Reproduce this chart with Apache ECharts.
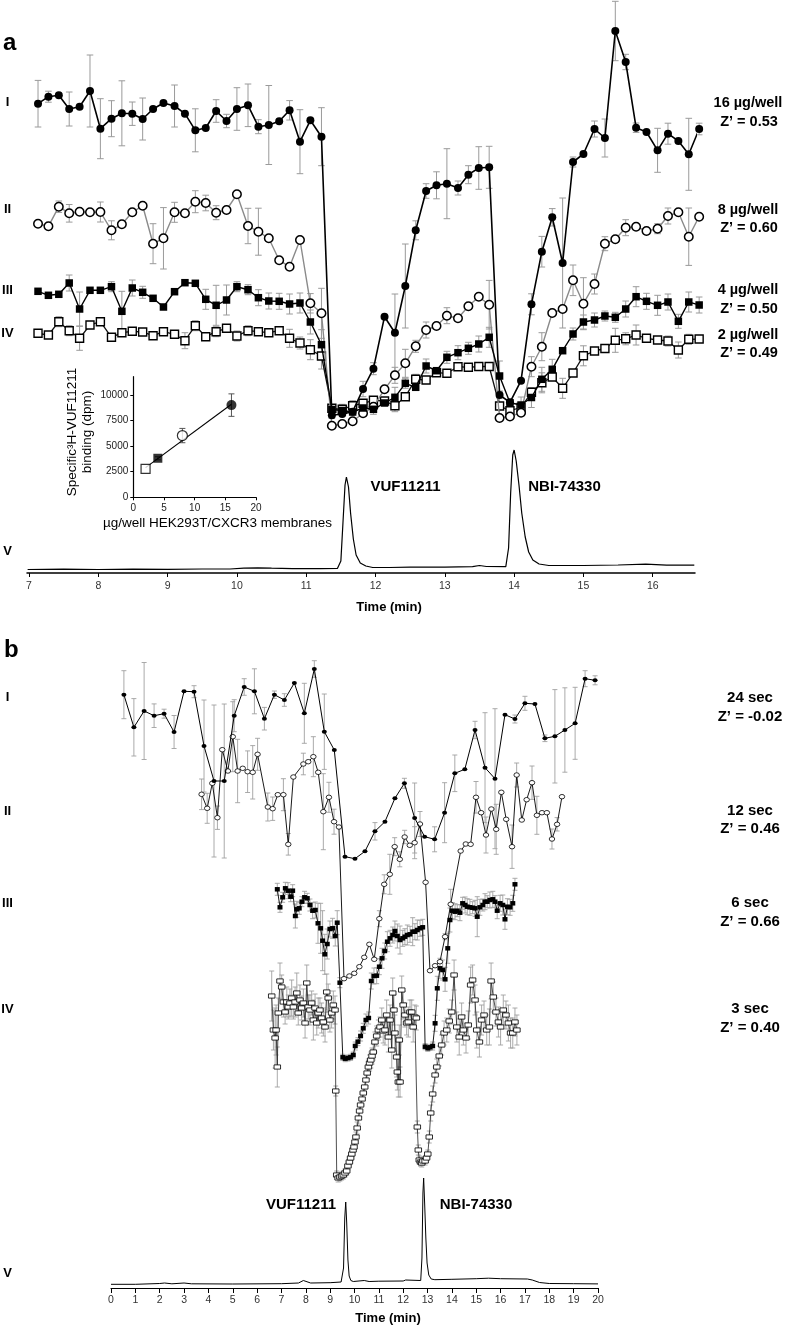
<!DOCTYPE html>
<html><head><meta charset="utf-8">
<script src="https://cdn.jsdelivr.net/npm/echarts@6/dist/echarts.min.js"></script>
<style>html,body{margin:0;padding:0;background:#fff}#c{width:788px;height:1328px}</style>
</head><body><div id="c"></div>
<script>
// ---------- tick labels ----------
const tickA = [7, 8, 9, 10, 11, 12, 13, 14, 15, 16];
const tickB = [0, 1, 2, 3, 4, 5, 6, 7, 8, 9, 10, 11, 12, 13, 14, 15, 16, 17, 18, 19, 20];
const insetTickX = [0, 5, 10, 15, 20];
const insetTickY = [0, 2500, 5000, 7500, 10000];

// ---------- panel a : fractions (time, min) and binding signal (arbitrary, offset traces) ----------
const timeA = [7.13,7.28,7.43,7.58,7.73,7.88,8.03,8.19,8.34,8.49,8.64,8.79,8.94,9.10,9.25,9.40,9.55,9.70,9.85,10.00,10.16,10.31,10.46,10.61,10.76,10.91,11.06,11.22,11.37,11.52,11.67,11.82,11.97,12.13,12.28,12.43,12.58,12.73,12.88,13.03,13.19,13.34,13.49,13.64,13.79,13.94,14.10,14.25,14.40,14.55,14.70,14.85,15.00,15.16,15.31,15.46,15.61,15.76,15.91,16.07,16.22,16.37,16.52,16.67];
const a16 = [469.3,476.3,477.7,464,466.3,482,444.3,454.3,459.7,459.3,454,464,470,467,459.3,442.7,445,462,452,464,467.7,446.3,448,451.7,462.7,431.3,452.7,436.3,157.7,159,161.3,184,204.3,256.3,240.3,287,342.7,382,387.7,389.3,385,398.3,405,405.7,178,170.7,192.3,268.7,321.3,355.7,310,411,419,444,435,542,511,445.3,441,422.7,439.3,432,418.7,444];
const a16Err = [23.3,5.5,0,17,0,36,30,18,32.5,11.7,21,0,0,21,0,21.5,0,11.3,6.7,21.3,21.3,7,39.5,0,9.7,32,0,29,3,0,0,7.7,6,0,38.7,42,9.5,7.3,13.5,35,7,9,21.3,21,3,0,0,10.5,15.3,8.7,65,5,0,8,19,29.7,7.7,4.7,0,22,10.5,0,36,5.8];
const a8 = [349.3,346.7,366.3,359.7,361.3,360.7,361,342.7,348.7,360.7,367.3,329.3,334.7,360.7,359.7,371.3,370,360.3,363,378.7,347,341.3,334.7,312.7,306.3,333,269.7,259.7,147.3,149,151.7,159.7,166.3,183.7,197.7,209.7,226.7,243,247,257.3,254.7,266.7,276.3,268.3,155,156.5,160.3,206.3,226.3,260,264,292.7,269.3,289,329.3,333.7,345.3,346.3,342,344.3,357,360.7,336.3,356.3];
const a8Err = [0,0,5.7,8.8,0,0,10,9.5,0,0,0,20,30.7,10,0,11,7.8,7,0,0,17.7,23.5,0,0,0,0,9.7,25,0,0,0,0,0,0,8,14,6,8,0,8,0,0,0,24.3,0,0,0,10,14,0,0,15.3,26,10,7,0,8,0,0,5,8,0,28.7,0];
const a4 = [281.7,277.7,278.7,290,264,282.7,282.7,286.3,261.7,285,280.7,274.7,266,281.3,290.3,289.7,273.7,267.7,273,286.3,283.3,275.3,272,271.7,269,270,251,228.3,163.5,162.5,161,165,163.7,170,175.7,189.7,185.7,207,202.3,215.7,220.3,224.7,229,235.7,197,170.3,168,175.5,193.7,203.7,222.3,239,251,253,257,255.7,264,276.3,271.7,267.7,271,251.7,271,268];
const a4Err = [0,0,0,8,17,0,0,5,20,8,6,0,0,0,0,0,10,20,15,5,5,8,8,8,10,10,12,15,0,0,0,8,5,0,10,5,0,7,0,6,7,6,8,10,15,0,8,10,12,10,0,6,7,7,5,5,8,10,8,10,8,7,10,8];
const a2 = [239.7,238,251.3,242.3,234.7,248,251.3,235.7,240.3,241.7,241,237.3,241.3,238.7,232.3,247.3,236.3,241.3,244.7,237,242.3,241.3,240.3,242.3,234.7,230,223.3,217,164.7,163.7,167.3,169.7,172.7,172,167.3,176.3,193.7,193,200.3,199.7,206.3,205.7,206.5,206.5,167,162.3,165.5,180.7,190.2,196,184.7,200,217.2,222,224.5,232.7,234.2,238,234.7,233,232,223,233.7,234];
const a2Err = [0,0,5,5,12,0,0,0,0,0,0,0,0,0,8,5,0,5,0,5,5,0,0,0,9,6,10,13,0,5,5,0,0,0,6,0,5,0,0,0,0,0,0,0,10,0,5,0,10,0,10,0,10,0,0,12,6,10,0,0,5,8,5,0];
const chromATime = [6.98,7.5,8.0,8.5,9.0,9.5,9.9,10.1,10.3,10.5,10.8,11.2,11.45,11.5,11.53,11.56,11.58,11.61,11.64,11.68,11.72,11.78,11.86,11.96,12.2,12.5,13.0,13.4,13.5,13.6,13.88,13.92,13.95,13.98,14.0,14.03,14.07,14.11,14.16,14.21,14.27,14.36,14.5,15.0,15.5,15.9,16.2,16.6];
const chromASignal = [3.5,3.8,3.5,3.8,3.7,4,4,4.8,5.2,4.8,4.3,4.3,4.5,12,50,88,96,86,60,34,18,10,7,5.5,5.5,5.8,5.8,6.3,7.5,6.5,6.3,25,80,118,123,112,88,60,36,21,13,9,7.5,7.5,8,8.8,7.8,7.8];

// ---------- inset ----------
const insetDose = [2, 4, 8, 16];
const insetBinding = [2780, 3820, 6040, 9020];
const insetErr = [0, 150, 700, 1100];
const insetFitDose = [2, 16];
const insetFitBinding = [2900, 9100];

// ---------- panel b ----------
const b24Time = [0.53,0.94,1.36,1.77,2.18,2.59,3.00,3.41,3.82,4.23,4.65,5.06,5.47,5.89,6.30,6.71,7.12,7.53,7.94,8.35,8.76,9.17,9.61,10.02,10.43,10.84,11.25,11.66,12.05,12.47,12.88,13.29,13.70,14.12,14.53,14.95,15.36,15.77,16.18,16.59,17.00,17.41,17.82,18.23,18.64,19.06,19.47,19.88];
const b24 = [593.3,560.7,577,572.3,574.3,556,596.7,596.3,542,507,507,572.3,601,596.7,569.3,593.3,588,605,574.7,619,556.3,538,431.3,429.3,436.7,456.7,466.3,489.7,504.7,470,451.3,448.7,475.3,514.7,518.7,558,520.3,509.3,573.3,569,584.7,584,549.7,551.7,558,564.7,609.3,607.7];
const b24Err = [24,28.7,48.5,11.8,4.5,16.5,0,6,46,76,77,16,8.3,22.5,11.3,3.7,6.3,0,30,8.3,37.7,0,0,0,0,8.7,0,0,5,35,0,12.5,30,18.3,0,8.7,55,70,0,4,7,0,3.3,46.7,42.2,36,8,4.5];
const b12Time = [3.72,3.95,4.16,4.37,4.57,4.80,5.00,5.20,5.41,5.61,5.82,6.02,6.44,6.64,6.85,7.08,7.28,7.49,7.90,8.10,8.31,8.51,8.72,8.95,9.16,9.36,9.57,9.79,9.99,10.20,10.40,10.61,10.81,11.02,11.22,11.45,11.65,11.86,12.06,12.27,12.47,12.69,12.92,13.10,13.31,13.51,13.72,13.95,14.36,14.57,14.77,14.99,15.20,15.40,15.62,15.82,16.03,16.23,16.47,16.66,16.87,17.07,17.29,17.49,17.70,17.90,18.11,18.32,18.52];
const b12 = [493.7,479.7,504.7,470.3,538.3,517,551.3,517,519.7,516.3,515.7,533.7,481,479.3,493.3,493.3,443.7,511,524,526.3,531.3,515.7,476.3,490.7,466.3,461,309.3,312,314.7,321.3,330.7,343.7,328.7,369.3,403.7,413.7,441.3,428.7,451,442.7,445.3,464,405.7,317.3,322.3,326.3,351.3,383.7,437,444,443.7,490.7,475.3,453,479,458.7,495.7,468.7,441.3,513,468,488.3,505.3,472.7,475.3,475.3,449,463.7,491.3];
const b12Err = [15.3,15,0,11.7,0,0,35,31.7,0,20.8,26.7,16,14,11.7,0,16,10.8,0,10.8,0,20,0,38,15,12.5,0,0,0,0,0,0,0,0,8,9.5,20,9,7.5,6.7,0,16,12.5,0,0,0,0,3,15,0,0,0,15.8,0,18,0,25,0,0,21.7,12,0,0,16.7,19,0,0,10,6.7,0];
const b6Time = [6.83,6.94,7.05,7.16,7.27,7.38,7.46,7.57,7.63,7.73,7.84,7.95,8.06,8.17,8.28,8.39,8.50,8.61,8.69,8.78,8.88,8.99,9.10,9.21,9.29,9.40,9.52,9.62,9.73,9.84,9.95,10.03,10.14,10.25,10.36,10.47,10.58,10.69,10.80,10.91,11.02,11.13,11.24,11.35,11.46,11.57,11.66,11.76,11.87,11.98,12.07,12.17,12.28,12.39,12.48,12.58,12.69,12.80,12.90,13.01,13.10,13.21,13.31,13.40,13.51,13.62,13.72,13.83,13.92,14.02,14.13,14.22,14.33,14.44,14.54,14.63,14.74,14.85,14.95,15.04,15.15,15.27,15.36,15.45,15.56,15.68,15.77,15.86,15.98,16.09,16.18,16.28,16.39,16.50,16.59];
const b6 = [398.7,380.7,390.7,399.7,397.3,391.3,397.3,372,378.7,379.7,386.3,390.7,389.7,383,377.3,378,364.7,359.7,347.3,333.7,344,359,359.7,352,365.3,305.3,230.7,229.3,230,230.7,233,242,246.3,252,259.7,268,270,307,312,312.3,321.3,329.7,337,346.3,349.7,353,357,352,348,349.7,351.3,353,353.7,356.3,356.3,358,359.7,360.7,241.3,239.7,240.7,242,264.7,299.7,319.7,318,308.7,339.7,368,377.3,376.3,377.3,375.3,384.7,383,381.3,380.7,380.3,379.7,371.3,380.7,383,386.3,386.3,388,388.7,386.3,377.3,384.7,383,368.7,381.3,380.7,384.7,403.7];
const b6Err = [6,5,5,6,8,5,6,12,8,6,5,6,5,6,8,8,20,25,30,20,15,8,10,10,12,5,3,3,3,3,3,4,4,5,5,6,6,8,8,8,8,10,8,10,8,8,10,12,14,8,8,10,8,14,8,10,8,8,3,3,3,4,8,12,10,10,12,15,12,8,8,6,8,6,8,8,8,6,8,20,8,6,8,6,8,8,6,8,8,10,10,8,8,8,6];
const b3Time = [6.60,6.67,6.74,6.78,6.83,6.87,6.94,7.01,7.08,7.15,7.22,7.28,7.35,7.42,7.49,7.56,7.63,7.69,7.76,7.83,7.90,7.97,8.04,8.10,8.17,8.24,8.31,8.38,8.45,8.51,8.58,8.65,8.72,8.79,8.86,8.92,8.99,9.06,9.13,9.20,9.23,9.27,9.33,9.40,9.47,9.54,9.61,9.68,9.73,9.79,9.84,9.89,9.94,9.98,10.02,10.06,10.11,10.16,10.21,10.25,10.31,10.36,10.42,10.47,10.52,10.57,10.62,10.67,10.72,10.77,10.84,10.91,10.98,11.05,11.12,11.18,11.25,11.32,11.39,11.46,11.53,11.57,11.62,11.66,11.73,11.76,11.80,11.84,11.87,11.94,12.00,12.07,12.14,12.21,12.28,12.35,12.41,12.48,12.54,12.58,12.62,12.66,12.71,12.76,12.81,12.90,12.96,13.01,13.07,13.13,13.21,13.31,13.38,13.48,13.58,13.68,13.79,13.89,13.99,14.09,14.20,14.30,14.40,14.47,14.58,14.67,14.77,14.85,14.95,15.02,15.13,15.22,15.32,15.43,15.54,15.61,15.70,15.81,15.91,16.00,16.11,16.22,16.32,16.41,16.50,16.59,16.67];
const b3 = [292,258,250,258,221,275,307,301,286,276,286,281,285,290,281,286,295,275,288,280,285,265,305,281,278,285,268,280,265,275,278,270,266,261,296,290,268,275,283,278,197,113,110,111,112,113,115,117,122,126,130,134,138,141,146,151,160,170,177,183,189,195,201,208,215,221,225,228,232,236,246,252,258,261,268,257,258,273,251,268,238,295,278,255,231,216,206,248,206,298,283,273,265,266,276,276,261,271,270,161,138,128,126,125,127,127,130,134,151,175,194,213,221,232,243,255,258,267,276,313,261,251,271,258,250,263,303,308,288,258,246,268,273,258,261,307,291,276,266,261,278,273,265,255,255,266,258];
const b3Err = [25,20,30,25,20,15,18,12,15,12,15,12,14,18,12,15,20,12,15,12,14,15,18,12,15,12,20,14,12,15,12,15,14,15,18,14,12,15,14,14,5,4,4,4,4,4,4,4,4,4,4,4,4,4,5,5,6,6,6,6,6,6,6,6,6,8,8,8,8,8,10,10,10,10,12,12,15,15,15,15,18,15,15,18,20,18,15,15,15,14,14,12,12,15,12,12,15,12,12,6,5,4,4,4,4,4,4,4,6,8,8,8,8,10,10,12,12,12,12,15,15,18,14,15,15,14,18,15,15,18,15,15,14,15,18,18,15,14,15,18,15,14,18,15,15,14,15];
const chromBTime = [0,1,2,2.2,2.5,3.0,3.3,5,7,7.7,7.9,8.2,9,9.45,9.55,9.6,9.64,9.68,9.73,9.78,9.85,9.95,10.4,10.6,11,12,12.1,12.72,12.77,12.81,12.84,12.88,12.93,12.98,13.05,13.15,13.3,14,15,15.5,16,17.1,17.3,17.6,18,19,20];
const chromBSignal = [3.7,3.7,4.5,5,4.2,5,4.2,4,4.3,5,7.5,5,5.3,6,20,70,86,65,28,12,7.5,6.5,7.5,6.5,6.8,7,8,7.5,30,95,110,85,50,25,13,9,8.3,8.7,9.3,9.8,9.3,9,8,5.5,4.5,4.3,4.1];

// ---------- texts ----------
const rowNames = ['I', 'II', 'III', 'IV', 'V'];
const labelsA = [['16 µg/well', 'Z’ = 0.53'], ['8 µg/well', 'Z’ = 0.60'], ['4 µg/well', 'Z’ = 0.50'], ['2 µg/well', 'Z’ = 0.49']];
const labelsB = [['24 sec', 'Z’ = -0.02'], ['12 sec', 'Z’ = 0.46'], ['6 sec', 'Z’ = 0.66'], ['3 sec', 'Z’ = 0.40']];

const FONT = '"Liberation Sans", Arial, Helvetica, sans-serif';
const zip = (t, v) => t.map((x, i) => [x, v[i]]);
const zip3 = (t, v, e) => t.map((x, i) => [x, v[i], e[i]]);

function errSeries(ai, data, color, cap, lw) {
  return {
    type: 'custom', xAxisIndex: ai, yAxisIndex: ai, data: data, z: 1, silent: true,
    renderItem: function (p, api) {
      const e = api.value(2);
      if (!e) return null;
      const x = api.value(0), y = api.value(1);
      const a = api.coord([x, y + e]), b = api.coord([x, y - e]);
      const st = { stroke: color, lineWidth: lw };
      return { type: 'group', children: [
        { type: 'line', shape: { x1: a[0], y1: a[1], x2: b[0], y2: b[1] }, style: st },
        { type: 'line', shape: { x1: a[0] - cap, y1: a[1], x2: a[0] + cap, y2: a[1] }, style: st },
        { type: 'line', shape: { x1: b[0] - cap, y1: b[1], x2: b[0] + cap, y2: b[1] }, style: st }
      ] };
    }
  };
}
function lineSeries(ai, data, symbol, size, fill, border, bw, lineColor, lw, z) {
  return {
    type: 'line', xAxisIndex: ai, yAxisIndex: ai, data: data, clip: false, z: z || 2,
    symbol: symbol, symbolSize: size, showSymbol: symbol !== 'none',
    itemStyle: { color: fill, borderColor: border, borderWidth: bw },
    lineStyle: { color: lineColor, width: lw }, silent: true
  };
}
function txt(s, x, y, size, weight, align) {
  return { type: 'text', x: x, y: y, z: 50, silent: true,
    style: { text: s, font: weight + ' ' + size + 'px ' + FONT, fill: '#000',
      textAlign: align, align: align, textVerticalAlign: 'middle', verticalAlign: 'middle' } };
}

const graphics = [];
graphics.push(txt('a', 3, 43, 24, 'bold', 'left'));
graphics.push(txt('b', 4, 650, 24, 'bold', 'left'));
[102, 209, 290, 333, 551].forEach((y, i) => graphics.push(txt(rowNames[i], 7.5, y, 13, 'bold', 'center')));
[697, 811, 903, 1009, 1273].forEach((y, i) => graphics.push(txt(rowNames[i], 7.5, y, 13, 'bold', 'center')));
[[103, 122], [210, 228], [290, 309], [335, 353]].forEach((ys, i) => {
  graphics.push(txt(labelsA[i][0], 748, ys[0], 14.5, 'bold', 'center'));
  graphics.push(txt(labelsA[i][1], 749, ys[1], 14.5, 'bold', 'center'));
});
[[698, 717], [811, 829], [903, 922], [1009, 1028]].forEach((ys, i) => {
  graphics.push(txt(labelsB[i][0], 750, ys[0], 15, 'bold', 'center'));
  graphics.push(txt(labelsB[i][1], 750, ys[1], 15, 'bold', 'center'));
});
graphics.push(txt('VUF11211', 405.5, 487, 15, 'bold', 'center'));
graphics.push(txt('NBI-74330', 564.5, 487, 15, 'bold', 'center'));
graphics.push(txt('VUF11211', 301, 1205, 15, 'bold', 'center'));
graphics.push(txt('NBI-74330', 476, 1205, 15, 'bold', 'center'));
graphics.push(txt('Time (min)', 389, 607, 13, 'bold', 'center'));
graphics.push(txt('Time (min)', 388, 1318, 13, 'bold', 'center'));
graphics.push(txt('µg/well HEK293T/CXCR3 membranes', 217.5, 523, 13.5, 'normal', 'center'));
const yl = txt('Specific³H-VUF11211\nbinding (dpm)', 80, 432, 13.5, 'normal', 'center');
yl.rotation = Math.PI / 2; yl.style.lineHeight = 15;
graphics.push(yl);

const plain = v => String(v);
const axisCommon = { splitLine: { show: false } };
const option = {
  animation: false,
  backgroundColor: '#fff',
  grid: [
    { left: 27, top: 0, width: 668, height: 573 },
    { left: 133.3, top: 376.7, width: 122.7, height: 120.6 },
    { left: 111, top: 620, width: 487, height: 668 }
  ],
  xAxis: [
    { gridIndex: 0, type: 'value', min: 6.971, max: 16.61, ...axisCommon,
      axisLine: { lineStyle: { color: '#000', width: 1.5 } },
      axisTick: { length: 4, lineStyle: { color: '#000' }, customValues: tickA },
      axisLabel: { customValues: tickA, formatter: plain, fontSize: 10.5, color: '#333', margin: 8, fontFamily: FONT } },
    { gridIndex: 1, type: 'value', min: 0, max: 20, ...axisCommon,
      axisLine: { lineStyle: { color: '#000', width: 1.2 } },
      axisTick: { length: 3, lineStyle: { color: '#000' }, customValues: insetTickX },
      axisLabel: { customValues: insetTickX, formatter: plain, fontSize: 10, color: '#222', margin: 6, fontFamily: FONT } },
    { gridIndex: 2, type: 'value', min: 0, max: 20, ...axisCommon,
      axisLine: { lineStyle: { color: '#000', width: 1.2 } },
      axisTick: { length: 5, lineStyle: { color: '#000' }, customValues: tickB },
      axisLabel: { customValues: tickB, formatter: plain, fontSize: 10.5, color: '#333', margin: 7, fontFamily: FONT } }
  ],
  yAxis: [
    { gridIndex: 0, type: 'value', min: 0, max: 573, show: false, ...axisCommon },
    { gridIndex: 1, type: 'value', min: 0, max: 11800, ...axisCommon,
      axisLine: { show: true, lineStyle: { color: '#000', width: 1.2 } },
      axisTick: { show: true, length: 3, lineStyle: { color: '#000' }, customValues: insetTickY },
      axisLabel: { customValues: insetTickY, formatter: plain, fontSize: 10, color: '#222', margin: 5, fontFamily: FONT } },
    { gridIndex: 2, type: 'value', min: 0, max: 668, show: false, ...axisCommon }
  ],
  graphic: { elements: graphics },
  series: [
    // panel a error bars
    errSeries(0, zip3(timeA, a2, a2Err), '#9a9a9a', 3.3, 1),
    errSeries(0, zip3(timeA, a4, a4Err), '#9a9a9a', 3.3, 1),
    errSeries(0, zip3(timeA, a8, a8Err), '#9a9a9a', 3.3, 1),
    errSeries(0, zip3(timeA, a16, a16Err), '#9a9a9a', 3.3, 1),
    // panel a traces
    lineSeries(0, zip(chromATime, chromASignal), 'none', 0, '#000', '#000', 0, '#000', 1.2, 2),
    lineSeries(0, zip(timeA, a2), 'rect', 8, '#fff', '#000', 1.4, '#111', 1.3, 3),
    lineSeries(0, zip(timeA, a8), 'circle', 8.5, '#fff', '#000', 1.5, '#8a8a8a', 1.4, 4),
    lineSeries(0, zip(timeA, a4), 'rect', 7.5, '#000', '#000', 0, '#000', 1.4, 5),
    lineSeries(0, zip(timeA, a16), 'circle', 8, '#000', '#000', 0, '#000', 1.6, 6),
    // inset
    errSeries(1, zip3(insetDose, insetBinding, insetErr), '#555', 3, 1),
    lineSeries(1, zip(insetFitDose, insetFitBinding), 'none', 0, '#000', '#000', 0, '#000', 1.1, 3),
    { type: 'scatter', xAxisIndex: 1, yAxisIndex: 1, z: 5, silent: true,
      data: insetDose.map((d, i) => ({
        value: [d, insetBinding[i]],
        symbol: ['rect', 'rect', 'circle', 'circle'][i],
        symbolSize: [9, 9, 10, 10][i],
        itemStyle: { color: ['#fff', '#000', '#fff', '#000'][i], borderColor: '#000', borderWidth: [1.2, 0, 1.2, 0][i] }
      })) },
    // panel b error bars
    errSeries(2, zip3(b3Time, b3, b3Err), '#a0a0a0', 2.5, 0.9),
    errSeries(2, zip3(b6Time, b6, b6Err), '#a0a0a0', 2.5, 0.9),
    errSeries(2, zip3(b12Time, b12, b12Err), '#a0a0a0', 2.5, 0.9),
    errSeries(2, zip3(b24Time, b24, b24Err), '#a0a0a0', 2.5, 0.9),
    // panel b traces
    lineSeries(2, zip(chromBTime, chromBSignal), 'none', 0, '#000', '#000', 0, '#000', 1, 2),
    lineSeries(2, zip(b3Time, b3), 'rect', [6.5, 4.2], '#fff', '#000', 0.8, '#222', 0.8, 3),
    lineSeries(2, zip(b6Time, b6), 'rect', [5, 4.5], '#000', '#000', 0, '#000', 0.9, 4),
    lineSeries(2, zip(b12Time, b12), 'circle', [5.5, 4.5], '#fff', '#000', 0.8, '#000', 0.9, 5),
    lineSeries(2, zip(b24Time, b24), 'circle', [5, 4], '#000', '#000', 0, '#000', 1, 6)
  ]
};
const chart = echarts.init(document.getElementById('c'), null, { renderer: 'canvas' });
chart.setOption(option);
</script></body></html>
